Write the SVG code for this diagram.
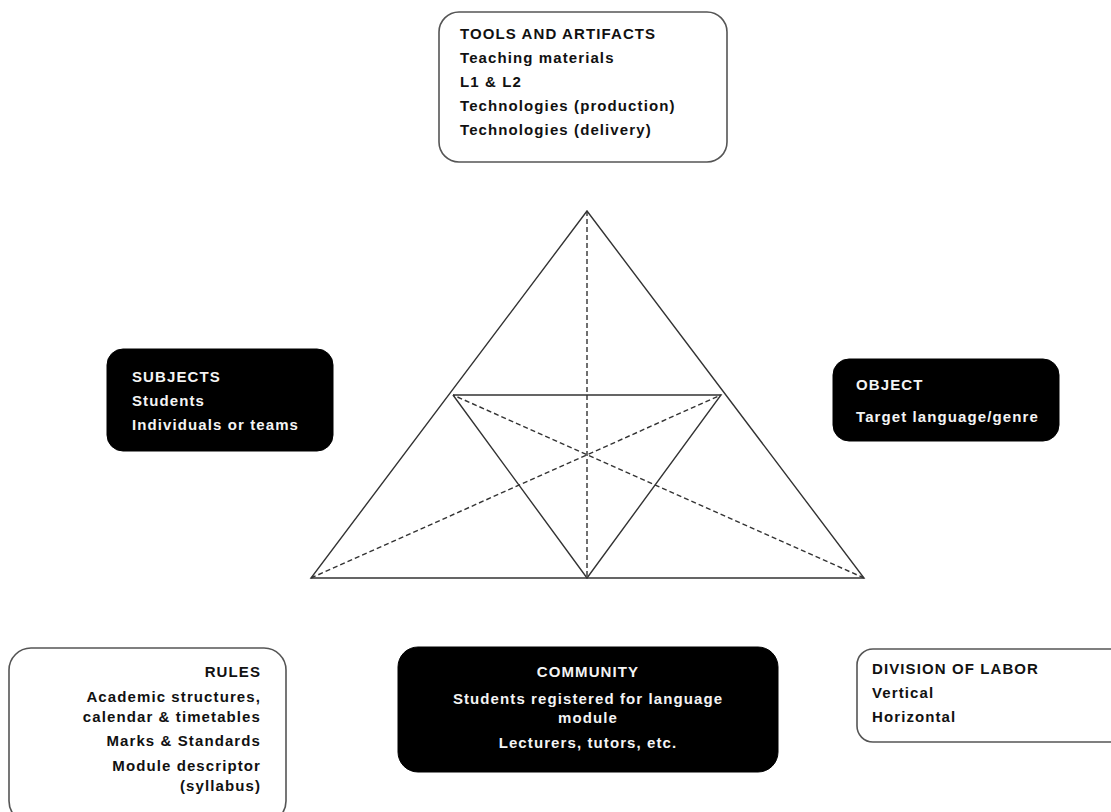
<svg xmlns="http://www.w3.org/2000/svg" width="1111" height="812" viewBox="0 0 1111 812">
<style>
.wb{fill:#fff;stroke:#555;stroke-width:1.6}
.bb{fill:#000;stroke:#000;stroke-width:1}
text{font-family:"Liberation Sans",Arial,sans-serif;font-size:15px;font-weight:bold;letter-spacing:1.1px}
.dk{fill:#111}
.wt{fill:#f4f4f4}
.s{stroke:#333;stroke-width:1.4;fill:none}
.d{stroke:#333;stroke-width:1.4;fill:none;stroke-dasharray:5 3}
</style>
<rect width="1111" height="812" fill="#fff"/>
<g id="connectors">
<polygon class="s" points="587,211 864,578 311,578"/>
<polyline class="s" points="453,395 721,395 587,578 453,395"/>
<line class="d" x1="587" y1="211" x2="587" y2="578"/>
<line class="d" x1="311" y1="578" x2="721" y2="395"/>
<line class="d" x1="864" y1="578" x2="453" y2="395"/>
</g>
<g id="tools">
<rect class="wb" x="439" y="12" width="288" height="150" rx="20"/>
<text class="dk" x="460" y="39">TOOLS AND ARTIFACTS</text>
<text class="dk" x="460" y="63">Teaching materials</text>
<text class="dk" x="460" y="87">L1 &amp; L2</text>
<text class="dk" x="460" y="111">Technologies (production)</text>
<text class="dk" x="460" y="135">Technologies (delivery)</text>
</g>
<g id="subjects">
<rect class="bb" x="107" y="349" width="226" height="102" rx="16"/>
<text class="wt" x="132" y="382">SUBJECTS</text>
<text class="wt" x="132" y="406">Students</text>
<text class="wt" x="132" y="430">Individuals or teams</text>
</g>
<g id="object">
<rect class="bb" x="833" y="359" width="226" height="82" rx="16"/>
<text class="wt" x="856" y="390">OBJECT</text>
<text class="wt" x="856" y="422">Target language/genre</text>
</g>
<g id="rules">
<rect class="wb" x="9" y="648" width="277" height="175" rx="22"/>
<g text-anchor="end">
<text class="dk" x="261" y="677">RULES</text>
<text class="dk" x="261" y="702">Academic structures,</text>
<text class="dk" x="261" y="722">calendar &amp; timetables</text>
<text class="dk" x="261" y="746">Marks &amp; Standards</text>
<text class="dk" x="261" y="771">Module descriptor</text>
<text class="dk" x="261" y="791">(syllabus)</text>
</g>
</g>
<g id="community">
<rect class="bb" x="398" y="647" width="380" height="125" rx="20"/>
<g text-anchor="middle">
<text class="wt" x="588" y="677">COMMUNITY</text>
<text class="wt" x="588" y="704">Students registered for language</text>
<text class="wt" x="588" y="723">module</text>
<text class="wt" x="588" y="748">Lecturers, tutors, etc.</text>
</g>
</g>
<g id="division">
<rect class="wb" x="857" y="649" width="280" height="93" rx="16"/>
<text class="dk" x="872" y="674">DIVISION OF LABOR</text>
<text class="dk" x="872" y="698">Vertical</text>
<text class="dk" x="872" y="722">Horizontal</text>
</g>
</svg>
